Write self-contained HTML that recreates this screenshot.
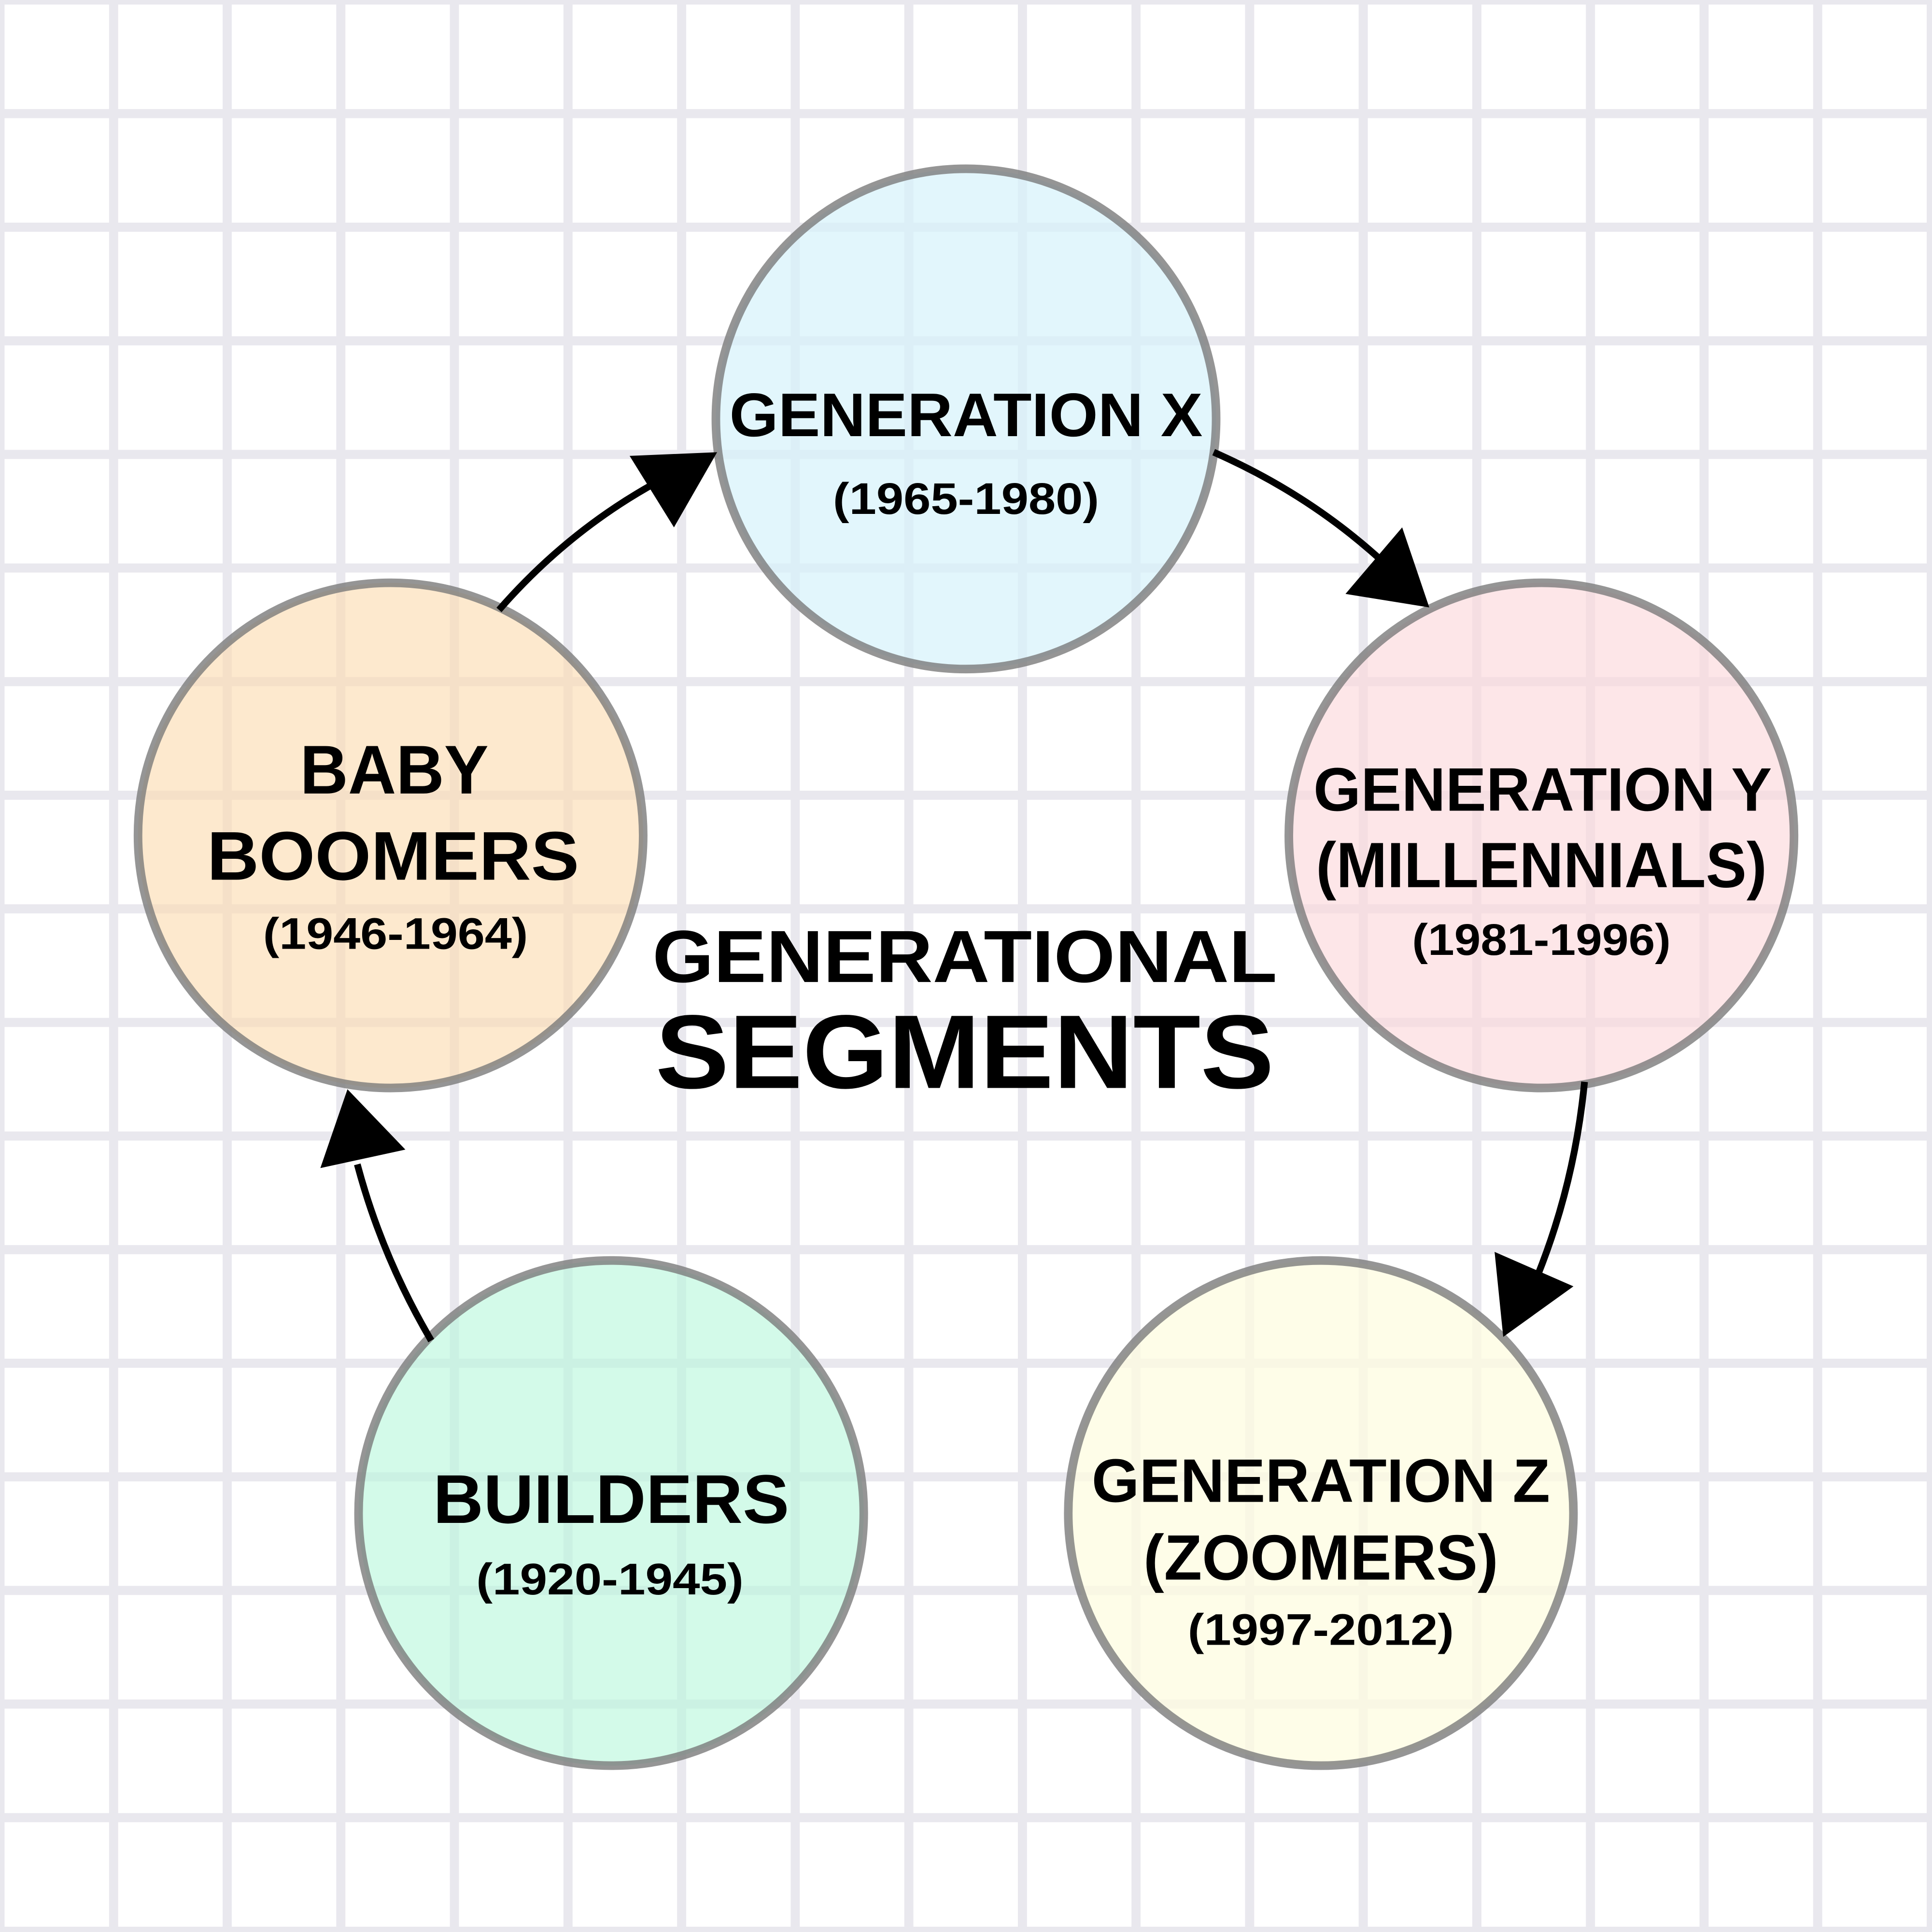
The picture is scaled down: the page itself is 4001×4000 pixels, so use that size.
<!DOCTYPE html>
<html><head><meta charset="utf-8"><style>
html,body{margin:0;padding:0;background:#fff;}
svg{display:block;}
text{font-family:"Liberation Sans",sans-serif;font-weight:bold;fill:#000;text-anchor:middle;}
</style></head><body>
<svg width="4001" height="4000" viewBox="0 0 1568 1568" preserveAspectRatio="none" xmlns="http://www.w3.org/2000/svg">
<defs>
<pattern id="g" x="-3.7" y="-3.7" width="92.2" height="92.2" patternUnits="userSpaceOnUse">
<rect x="0" y="0" width="7.4" height="92.2" fill="#e9e8ee"/>
<rect x="0" y="0" width="92.2" height="7.4" fill="#e9e8ee"/>
</pattern>
</defs>
<rect width="1568" height="1568" fill="#fff"/>
<rect width="1568" height="1568" fill="url(#g)"/>
<g stroke="#7a7a7a" stroke-opacity="0.8" stroke-width="7">
<circle cx="784" cy="340" r="203" fill="#d6f2fb" fill-opacity="0.7"/>
<circle cx="317" cy="678" r="205" fill="#fbdcb0" fill-opacity="0.62"/>
<circle cx="1251" cy="678" r="205" fill="#fcd9dc" fill-opacity="0.65"/>
<circle cx="496" cy="1228" r="205" fill="#b8f7dc" fill-opacity="0.62"/>
<circle cx="1072" cy="1228" r="205" fill="#fefce0" fill-opacity="0.75"/>
</g>
<g fill="none" stroke="#000" stroke-width="5.5">
<path d="M405 495 Q460 432 530 393"/>
<path d="M985 367 Q1060 400 1118 452"/>
<path d="M1286 878 Q1278 960 1248 1035"/>
<path d="M350 1088 Q310 1020 290 945"/>
</g>
<g fill="#000">
<polygon points="582,367 511,370 547,428"/>
<polygon points="1160,493 1092,482 1138,428"/>
<polygon points="1220,1085 1213,1016 1277,1044"/>
<polygon points="282,884 260,948 329,933"/>
</g>
<text x="784" y="354" font-size="50" textLength="384" lengthAdjust="spacingAndGlyphs">GENERATION X</text>
<text x="784" y="417" font-size="36" textLength="216" lengthAdjust="spacingAndGlyphs">(1965-1980)</text>
<text x="320" y="644" font-size="56" textLength="153" lengthAdjust="spacingAndGlyphs">BABY</text>
<text x="319" y="714" font-size="56" textLength="302" lengthAdjust="spacingAndGlyphs">BOOMERS</text>
<text x="321" y="770" font-size="36" textLength="215" lengthAdjust="spacingAndGlyphs">(1946-1964)</text>
<text x="1252" y="658" font-size="50" textLength="372" lengthAdjust="spacingAndGlyphs">GENERATION Y</text>
<text x="1251" y="720" font-size="52" textLength="366" lengthAdjust="spacingAndGlyphs">(MILLENNIALS)</text>
<text x="1251" y="775" font-size="36" textLength="210" lengthAdjust="spacingAndGlyphs">(1981-1996)</text>
<text x="496" y="1236" font-size="56" textLength="289" lengthAdjust="spacingAndGlyphs">BUILDERS</text>
<text x="495" y="1294" font-size="36" textLength="217" lengthAdjust="spacingAndGlyphs">(1920-1945)</text>
<text x="1072" y="1219" font-size="50" textLength="372" lengthAdjust="spacingAndGlyphs">GENERATION Z</text>
<text x="1072" y="1282" font-size="52" textLength="288" lengthAdjust="spacingAndGlyphs">(ZOOMERS)</text>
<text x="1072" y="1335" font-size="36" textLength="216" lengthAdjust="spacingAndGlyphs">(1997-2012)</text>
<text x="783" y="797" font-size="60" textLength="507" lengthAdjust="spacingAndGlyphs">GENERATIONAL</text>
<text x="783" y="883" font-size="85" textLength="502" lengthAdjust="spacingAndGlyphs">SEGMENTS</text>
</svg>
</body></html>
